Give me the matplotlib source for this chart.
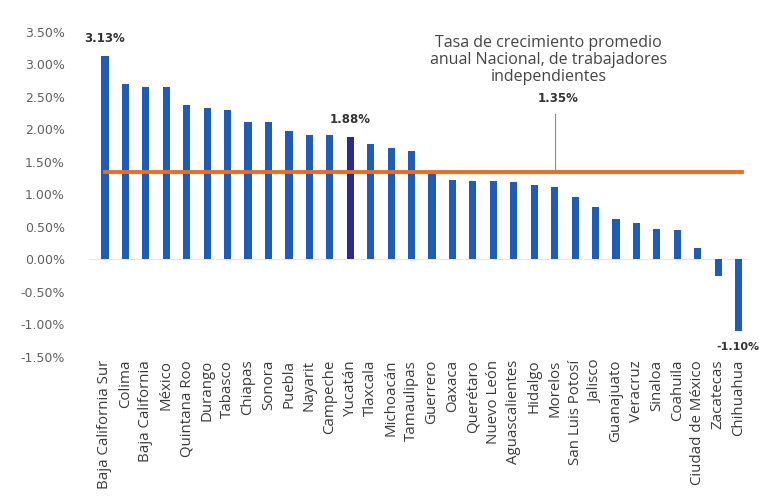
import matplotlib.pyplot as plt
from matplotlib.ticker import FuncFormatter

# Tasa de crecimiento promedio anual por entidad (%)
estados = [
    'Baja California Sur', 'Colima', 'Baja California', 'México', 'Quintana Roo',
    'Durango', 'Tabasco', 'Chiapas', 'Sonora', 'Puebla', 'Nayarit', 'Campeche',
    'Yucatán', 'Tlaxcala', 'Michoacán', 'Tamaulipas', 'Guerrero', 'Oaxaca',
    'Querétaro', 'Nuevo León', 'Aguascalientes', 'Hidalgo', 'Morelos',
    'San Luis Potosí', 'Jalisco', 'Guanajuato', 'Veracruz', 'Sinaloa',
    'Coahuila', 'Ciudad de México', 'Zacatecas', 'Chihuahua',
]
tasas = [
    3.13, 2.70, 2.66, 2.66, 2.37, 2.33, 2.30, 2.12, 2.12, 1.98, 1.92, 1.92,
    1.88, 1.77, 1.71, 1.67, 1.31, 1.23, 1.21, 1.21, 1.19, 1.14, 1.12,
    0.96, 0.81, 0.63, 0.56, 0.47, 0.45, 0.17, -0.25, -1.10,
]
promedio_nacional = 1.35
destacado = 'Yucatán'
etiquetados = ['Baja California Sur', 'Yucatán', 'Chihuahua']
y_ticks = [-1.5, -1.0, -0.5, 0.0, 0.5, 1.0, 1.5, 2.0, 2.5, 3.0, 3.5]

azul = '#1f5cb8'
azul_oscuro = '#2b2a8f'
naranja = '#f26a1f'
gris = '#5f5f5f'

plt.rcParams['font.family'] = ['Open Sans', 'DejaVu Sans']

fig = plt.figure(figsize=(7.59, 4.97), dpi=100)
ax = fig.add_axes([0.1167, 0.2817, 0.870, 0.667])

x = list(range(len(estados)))
colores = [azul_oscuro if e == destacado else azul for e in estados]
ax.bar(x, tasas, width=0.35, color=colores, zorder=2)

# Línea del promedio nacional
ax.plot([x[0], x[-1] + 0.15], [promedio_nacional, promedio_nacional],
        color=naranja, linewidth=2.8, zorder=3)
ax.axhline(0, color='#e6e6e6', linewidth=0.8, zorder=1)

# Etiquetas de valor
for e in etiquetados:
    i = estados.index(e)
    v = tasas[i]
    if v >= 0:
        ax.text(i, v + 0.17, f'{v:.2f}%', ha='center', va='bottom',
                fontsize=8.5, fontweight='bold', color='#333333',
                family='DejaVu Sans')
    else:
        ax.text(i - 0.05, v - 0.17, f'{v:.2f}%', ha='center', va='top',
                fontsize=8, fontweight='bold', color='#333333',
                family='DejaVu Sans')

# Anotación del promedio nacional
x_nota = 22
ax.plot([x_nota, x_nota], [promedio_nacional, 2.24],
        color='#8a8a8a', linewidth=0.8, zorder=2)
ax.text(x_nota - 0.3, 3.07,
        'Tasa de crecimiento promedio\nanual Nacional, de trabajadores\nindependientes',
        ha='center', va='center', fontsize=11.5, color='#444444', linespacing=1.1)
ax.text(x_nota + 0.15, 2.48, f'{promedio_nacional:.2f}%', ha='center', va='center',
        fontsize=8.5, fontweight='bold', color='#333333', family='DejaVu Sans')

ax.set_xlim(-0.8, 31.5)
ax.set_ylim(-1.5, 3.6)
ax.set_yticks(y_ticks)
ax.yaxis.set_major_formatter(FuncFormatter(lambda v, p: f'{v:.2f}%'))
ax.set_xticks(x)
ax.set_xticklabels(estados, rotation=90, fontsize=10.8, color='#3a3a3a')
for lbl in ax.get_yticklabels():
    lbl.set_family('DejaVu Sans')

ax.tick_params(axis='y', length=0, pad=17, labelsize=9, labelcolor=gris)
ax.tick_params(axis='x', length=0, pad=2)
for s in ax.spines.values():
    s.set_visible(False)

fig.savefig('out.png', dpi=100)
